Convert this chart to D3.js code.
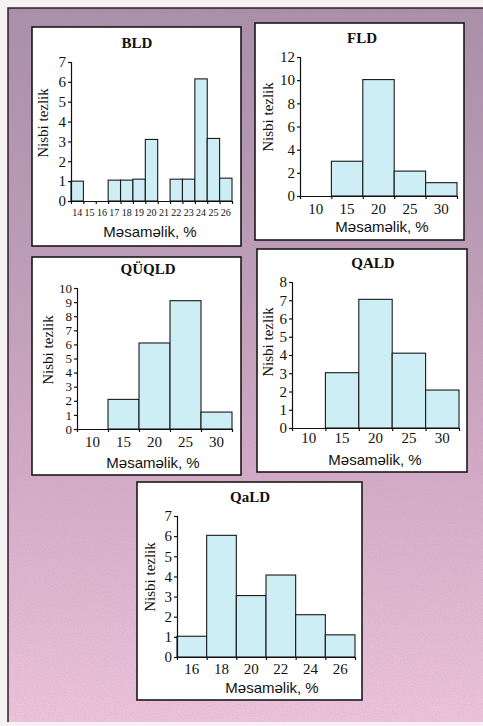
<!DOCTYPE html>
<html><head><meta charset="utf-8">
<script src="https://cdn.jsdelivr.net/npm/d3@7"></script>
<style>html,body{margin:0;padding:0;background:#fff;overflow:hidden}svg{display:block}</style>
</head><body>
<script>
// ---- data ----
const bldBins = ["14","15","16","17","18","19","20","21","22","23","24","25","26"];
const bldValues = [1.0, 0, 0, 1.05, 1.05, 1.1, 3.1, 0, 1.1, 1.1, 6.15, 3.15, 1.15];
const bldYTicks = [0,1,2,3,4,5,6,7];

const fldBins = ["10","15","20","25","30"];
const fldValues = [0, 3.0, 10.05, 2.15, 1.15];
const fldYTicks = [0,2,4,6,8,10,12];

const quqldBins = ["10","15","20","25","30"];
const quqldValues = [0, 2.1, 6.1, 9.1, 1.2];
const quqldYTicks = [0,1,2,3,4,5,6,7,8,9,10];

const qaldBins = ["10","15","20","25","30"];
const qaldValues = [0, 3.03, 7.05, 4.1, 2.08];
const qaldYTicks = [0,1,2,3,4,5,6,7,8];

const qaLdBins = ["16","18","20","22","24","26"];
const qaLdValues = [1.03, 6.04, 3.05, 4.07, 2.1, 1.1];
const qaLdYTicks = [0,1,2,3,4,5,6,7];

const titles = ["BLD","FLD","QÜQLD","QALD","QaLD"];
const yAxisLabel = "Nisbi tezlik";
const xAxisLabel = "Məsaməlik, %";

// ---- layout ----
const W = 483, H = 726;
const panels = [
  {bins: bldBins, values: bldValues, yTicks: bldYTicks, title: titles[0],
   box:[32,27,209,219], x0:71, x1:232, y0:201, y1:62, xfs:10, yfs:15, xlab:215.5,
   t:[137,48], yl:[43,123], xl:[150,237]},
  {bins: fldBins, values: fldValues, yTicks: fldYTicks, title: titles[1],
   box:[255,23,209,217], x0:300, x1:457, y0:196, y1:57, xfs:15, yfs:15, xlab:214,
   t:[362,43], yl:[268,117], xl:[382,232]},
  {bins: quqldBins, values: quqldValues, yTicks: quqldYTicks, title: titles[2],
   box:[32,257,209,218], x0:77, x1:232, y0:429, y1:288, xfs:15, yfs:13, xlab:447,
   t:[148,274], yl:[48,350], xl:[153,468]},
  {bins: qaldBins, values: qaldValues, yTicks: qaldYTicks, title: titles[3],
   box:[257,249,210,223], x0:292, x1:459, y0:428, y1:282, xfs:15, yfs:15, xlab:443,
   t:[373,268], yl:[268,342], xl:[375,465]},
  {bins: qaLdBins, values: qaLdValues, yTicks: qaLdYTicks, title: titles[4],
   box:[137,482,225,218], x0:177, x1:355, y0:657, y1:516, xfs:15, yfs:15, xlab:674,
   t:[250,502], yl:[150,577], xl:[272,693]}
];

const svg = d3.select("body").append("svg").attr("width", W).attr("height", H);
const defs = svg.append("defs");
const grad = defs.append("linearGradient").attr("id","bg").attr("x1",0).attr("y1",0).attr("x2",0).attr("y2",1);
grad.append("stop").attr("offset","0%").attr("stop-color","#aa8fa7");
grad.append("stop").attr("offset","35%").attr("stop-color","#bd9db6");
grad.append("stop").attr("offset","65%").attr("stop-color","#d4abc7");
grad.append("stop").attr("offset","100%").attr("stop-color","#efc3dc");
const noise = defs.append("filter").attr("id","noise").attr("x",0).attr("y",0).attr("width","100%").attr("height","100%");
noise.append("feTurbulence").attr("type","fractalNoise").attr("baseFrequency",0.9).attr("numOctaves",1).attr("seed",3).attr("result","n");
noise.append("feColorMatrix").attr("in","n").attr("type","matrix")
  .attr("values","0 0 0 0 0.4  0 0 0 0 0.3  0 0 0 0 0.45  0 0 0 0.9 -0.35");

svg.append("rect").attr("x",0).attr("y",0).attr("width",W).attr("height",H).attr("fill","#f6f2f4");
svg.append("rect").attr("x",8).attr("y",8).attr("width",W-8).attr("height",714).attr("fill","url(#bg)");
svg.append("rect").attr("x",8).attr("y",8).attr("width",W-8).attr("height",714).attr("filter","url(#noise)").attr("opacity",0.6);
svg.append("path").attr("d",`M8,722V8H${W}`).attr("fill","none").attr("stroke","#2a2228").attr("stroke-width",1.5);

const serif = "'Liberation Serif','Times New Roman',serif";
const sans = "'Liberation Sans',Arial,sans-serif";

panels.forEach(p => {
  const g = svg.append("g");
  g.append("rect").attr("x",p.box[0]).attr("y",p.box[1]).attr("width",p.box[2]).attr("height",p.box[3])
    .attr("fill","#fff").attr("stroke","#1a1a1a").attr("stroke-width",1.6);

  const x = d3.scaleBand().domain(p.bins).range([p.x0, p.x1]).paddingInner(0).paddingOuter(0);
  const y = d3.scaleLinear().domain([0, d3.max(p.yTicks)]).range([p.y0, p.y1]);

  // bars
  g.selectAll("rect.bar").data(p.bins.map((b,i)=>({b, v:p.values[i]})).filter(d=>d.v>0))
    .join("rect").attr("class","bar")
    .attr("x", d=>x(d.b)).attr("width", x.bandwidth())
    .attr("y", d=>y(d.v)).attr("height", d=>y(0)-y(d.v))
    .attr("fill","#cdeef5").attr("stroke","#1a1a1a").attr("stroke-width",1.1);

  // y axis
  const ya = g.append("g").attr("transform",`translate(${p.x0},0)`)
    .call(d3.axisLeft(y).tickValues(p.yTicks).tickSize(3).tickPadding(2).tickFormat(d3.format("d")));
  ya.attr("font-family", serif).attr("font-size", p.yfs);
  ya.selectAll("path,line").attr("stroke","#111").attr("stroke-width",1.2);
  ya.selectAll("text").attr("fill","#111");

  // x axis: edge ticks
  const edge = d3.scaleLinear().domain([0, p.bins.length]).range([p.x0, p.x1]);
  const xa = g.append("g").attr("transform",`translate(0,${p.y0})`)
    .call(d3.axisBottom(edge).tickValues(d3.range(p.bins.length+1)).tickSize(3).tickSizeOuter(0).tickFormat(""));
  xa.selectAll("path,line").attr("stroke","#111").attr("stroke-width",1.2);

  // x axis: labels at bin centres
  const xl = g.append("g").attr("transform",`translate(0,${p.y0})`)
    .call(d3.axisBottom(x).tickSize(0));
  xl.select(".domain").remove();
  xl.attr("font-family", serif).attr("font-size", p.xfs);
  xl.selectAll("text").attr("y", p.xlab - p.y0).attr("dy", null).attr("fill","#111");

  // texts
  g.append("text").attr("x",p.t[0]).attr("y",p.t[1]).attr("text-anchor","middle")
    .attr("font-family",serif).attr("font-weight","bold").attr("font-size",15).attr("fill","#111").text(p.title);
  g.append("text").attr("transform",`translate(${p.yl[0]},${p.yl[1]}) rotate(-90)`)
    .attr("text-anchor","middle").attr("dominant-baseline","central")
    .attr("font-family",serif).attr("font-size",15).attr("fill","#111").text(yAxisLabel);
  g.append("text").attr("x",p.xl[0]).attr("y",p.xl[1]).attr("text-anchor","middle")
    .attr("font-family",sans).attr("font-size",15).attr("fill","#111").text(xAxisLabel);
});
</script>
</body></html>
